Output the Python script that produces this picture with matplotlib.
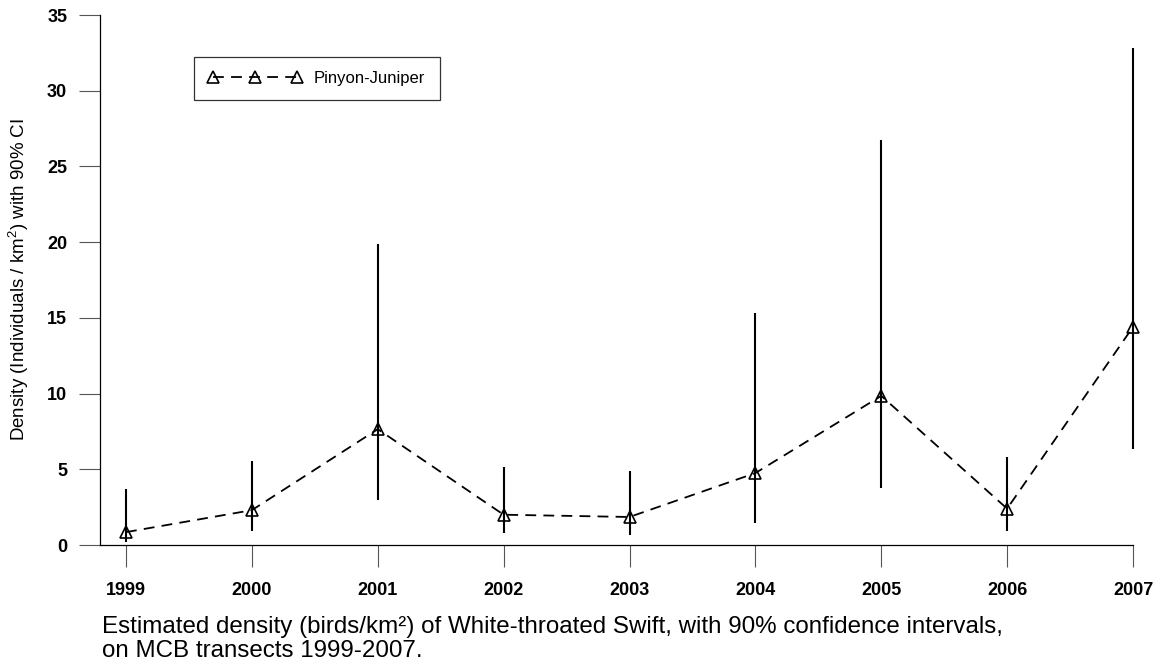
import matplotlib
matplotlib.use("Agg")
import matplotlib.pyplot as plt
from matplotlib.lines import Line2D

plt.rcParams['font.family'] = ['Liberation Sans', 'DejaVu Sans']
plt.rcParams['mathtext.fontset'] = 'custom'
plt.rcParams['mathtext.rm'] = 'Liberation Sans'
plt.rcParams['mathtext.it'] = 'Liberation Sans:italic'
plt.rcParams['mathtext.bf'] = 'Liberation Sans:bold'

years = [1999, 2000, 2001, 2002, 2003, 2004, 2005, 2006, 2007]
density = [0.85, 2.3, 7.65, 2.0, 1.85, 4.75, 9.85, 2.4, 14.4]
ci_low = [0.18, 0.95, 3.0, 0.77, 0.66, 1.43, 3.74, 0.95, 6.32]
ci_high = [3.7, 5.57, 19.9, 5.17, 4.89, 15.3, 26.75, 5.83, 32.8]
y_ticks = [0, 5, 10, 15, 20, 25, 30, 35]
series_name = "Pinyon-Juniper"
y_label = "Density (Individuals / km$^2$) with 90% CI"
caption_lines = ["Estimated density (birds/km\u00b2) of White-throated Swift, with 90% confidence intervals,",
                 "on MCB transects 1999-2007."]

W, H = 1161, 662
fig = plt.figure(figsize=(W / 100, H / 100), dpi=100)
left_px, right_px, top_px, bottom_px = 100, 1150, 15, 545
ax = fig.add_axes([left_px / W, 1 - bottom_px / H,
                   (right_px - left_px) / W, (bottom_px - top_px) / H])

px_per_year = (1133 - 126) / 8
x0 = years[0] - (126 - left_px) / px_per_year
x1 = years[-1] + (right_px - 1133) / px_per_year
ax.set_xlim(x0, x1)
ax.set_ylim(0, 35)

ax.vlines(years, ci_low, ci_high, colors='black', linewidth=1.5, zorder=2)
ax.plot(years, density, color='black', linestyle=(0, (6, 4)), linewidth=1.3,
        marker='^', markersize=8.5, markerfacecolor='none', markeredgecolor='black',
        markeredgewidth=1.2, zorder=3)

for s in ['top', 'right']:
    ax.spines[s].set_visible(False)
ax.spines['left'].set_bounds(0, 35)
ax.spines['bottom'].set_bounds(x0, years[-1])
for s in ['left', 'bottom']:
    ax.spines[s].set_linewidth(0.9)

ax.set_yticks(y_ticks)
ax.set_xticks(years)
ax.set_xticklabels([str(y) for y in years], fontweight='bold', fontsize=13)
ax.set_yticklabels([str(v) for v in y_ticks], fontweight='bold', fontsize=13)
ax.tick_params(axis='x', direction='out', length=16, width=0.8, color='#555555', pad=10.4)
ax.tick_params(axis='y', direction='out', length=15, width=0.8, color='#555555', pad=8.6)

ylab = ax.set_ylabel(y_label, fontsize=12)
ax.yaxis.set_label_coords(-69 / (right_px - left_px), 0.5)

handle = Line2D([0, 1], [0, 0], color='black', linestyle=(0, (6, 4)), linewidth=1.3,
                marker='^', markersize=8, markerfacecolor='none', markeredgecolor='black',
                markeredgewidth=1.2)
leg = ax.legend([handle], [series_name], loc='upper left',
                bbox_to_anchor=((194 - left_px) / (right_px - left_px),
                                1 - (57 - top_px) / (bottom_px - top_px)),
                frameon=True, fancybox=False, edgecolor='black', fontsize=12,
                handlelength=5.6, numpoints=3, borderpad=0.85, handletextpad=0.75,
                borderaxespad=0)
leg.get_frame().set_linewidth(0.9)

cap_texts = []
for i, line in enumerate(caption_lines):
    cap_texts.append(fig.text(102 / W, 1 - (633 + 24 * i) / H, line, fontsize=15,
                              va='baseline', ha='left'))

# fit caption width / y-label length to reference extents
fig.canvas.draw()
r = fig.canvas.get_renderer()
w = cap_texts[0].get_window_extent(r).width
fs = 15 * 904 / w
for t in cap_texts:
    t.set_fontsize(fs)
h = ylab.get_window_extent(r).height
ylab.set_fontsize(12 * 322 / h)

fig.savefig("out.png", dpi=100)
